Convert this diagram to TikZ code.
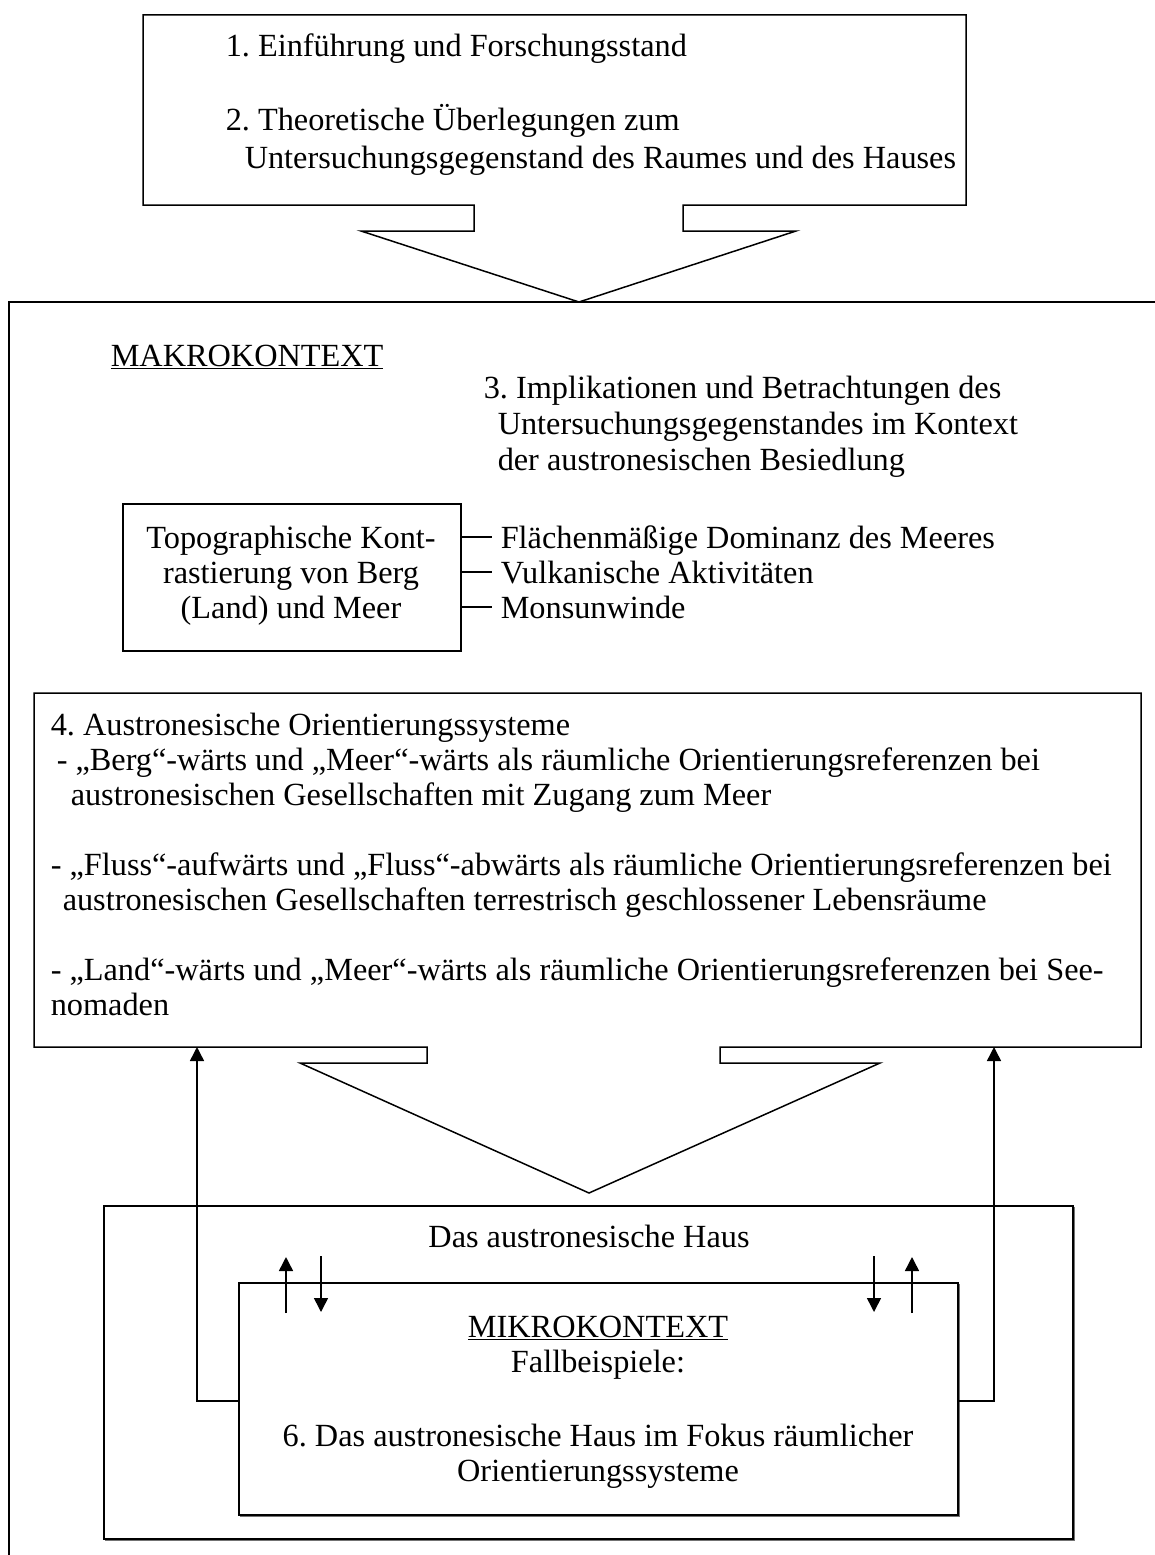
\documentclass[tikz,border=0pt]{standalone}
\usepackage{fontspec}
\setmainfont{Liberation Serif}
\usetikzlibrary{arrows.meta,calc}
\frenchspacing
\begin{document}
\begin{tikzpicture}[x=1pt,y=-1pt,line width=1.5pt,line join=miter,
  txt/.style={inner sep=0pt,anchor=base west,font=\fontsize{32.3}{35}\selectfont},
  ctxt/.style={inner sep=0pt,anchor=base,font=\fontsize{32.3}{35}\selectfont},
  arr/.style={-{Triangle[length=14pt,width=14pt]}},
  shadowline/.style={draw=black!55,line width=1.5pt},
  boxnode/.style={draw,inner sep=0pt,anchor=north west}]
\useasboundingbox (0,0) rectangle (1155,1555);

% ---------- top box with down arrow ----------
\draw (474,205) -- (143,205) -- (143,15) -- (966,15) -- (966,205) -- (683,205)
  -- (683,231) -- (796,231) -- (579,302) -- (361,231) -- (474,231) -- cycle;
\node[txt] (t1) at (225,57) {1. Einführung und Forschungsstand};
\node[txt] (t2) at (225,130) {2. Theoretische Überlegungen zum};
\node[txt] (t2b) at (244,168) {Untersuchungsgegenstand des Raumes und des Hauses};

% ---------- big (macro) frame ----------
\draw (1160,302) -- (9,302) -- (9,1560);

\node[txt] (makro) at (110,366) {\underline{MAKROKONTEXT}};
\node[txt] (t3) at (483,398) {3. Implikationen und Betrachtungen des};
\node[txt] (t3b) at (497,434) {Untersuchungsgegenstandes im Kontext};
\node[txt] (t3c) at (497,470) {der austronesischen Besiedlung};

% topographic box
\node[boxnode,minimum width=338pt,minimum height=147pt] (topo) at (122,503) {};
\node[ctxt] (tp1) at (291,548) {Topographische Kont-};
\node[ctxt] (tp2) at (291,583) {rastierung von Berg};
\node[ctxt] (tp3) at (291,618) {(Land) und Meer};
\node[txt] (f1) at (500,548) {Flächenmäßige Dominanz des Meeres};
\node[txt] (f2) at (500,583) {Vulkanische Aktivitäten};
\node[txt] (f3) at (500,618) {Monsunwinde};
\draw (topo.east |- 0,537) -- (492,537);
\draw (topo.east |- 0,572) -- (492,572);
\draw (topo.east |- 0,607) -- (492,607);

% ---------- box 4 with down arrow ----------
\draw (427,1047) -- (34,1047) -- (34,693) -- (1141,693) -- (1141,1047) -- (720,1047)
  -- (720,1063) -- (880,1063) -- (589,1193) -- (300,1063) -- (427,1063) -- cycle;
\coordinate (b4l) at (197,1047);
\coordinate (b4r) at (994,1047);
\node[txt] (o0) at (50,735) {4. Austronesische Orientierungssysteme};
\node[txt] (o1) at (56,770) {- „Berg“-wärts und „Meer“-wärts als räumliche Orientierungsreferenzen bei};
\node[txt] (o1b) at (70,805) {austronesischen Gesellschaften mit Zugang zum Meer};
\node[txt] (o2) at (50,875) {- „Fluss“-aufwärts und „Fluss“-abwärts als räumliche Orientierungsreferenzen bei};
\node[txt] (o2b) at (62,910) {austronesischen Gesellschaften terrestrisch geschlossener Lebensräume};
\node[txt] (o3) at (50,980) {- „Land“-wärts und „Meer“-wärts als räumliche Orientierungsreferenzen bei See-};
\node[txt] (o3b) at (50,1015) {nomaden};

% ---------- house box ----------
\draw[shadowline] (105,1540.5) -- (1074.5,1540.5) -- (1074.5,1207);
\node[boxnode,minimum width=969pt,minimum height=333pt] (haus) at (103,1205) {};
\node[ctxt] (hausT) at (589,1247) {Das austronesische Haus};

% inner micro box
\draw[shadowline] (240,1516.5) -- (959.5,1516.5) -- (959.5,1284);
\node[boxnode,minimum width=719pt,minimum height=232pt] (mikro) at (238,1282) {};
\node[ctxt] (mk) at (598,1337) {\underline{MIKROKONTEXT}};
\node[ctxt] (fb) at (598,1372) {Fallbeispiele:};
\node[ctxt] (m6) at (598,1446) {6. Das austronesische Haus im Fokus räumlicher};
\node[ctxt] (m6b) at (598,1481) {Orientierungssysteme};

% small arrows across the inner box top
\draw[arr] (286,1313) -- (286,1257);
\draw[arr] (321,1256) -- (321,1312);
\draw[arr] (874,1256) -- (874,1312);
\draw[arr] (912,1313) -- (912,1257);

% feedback connectors to box 4
\draw[arr] (mikro.west |- 0,1401) -- (197,1401) -- (b4l);
\draw[arr] (mikro.east |- 0,1401) -- (994,1401) -- (b4r);
\end{tikzpicture}
\end{document}
